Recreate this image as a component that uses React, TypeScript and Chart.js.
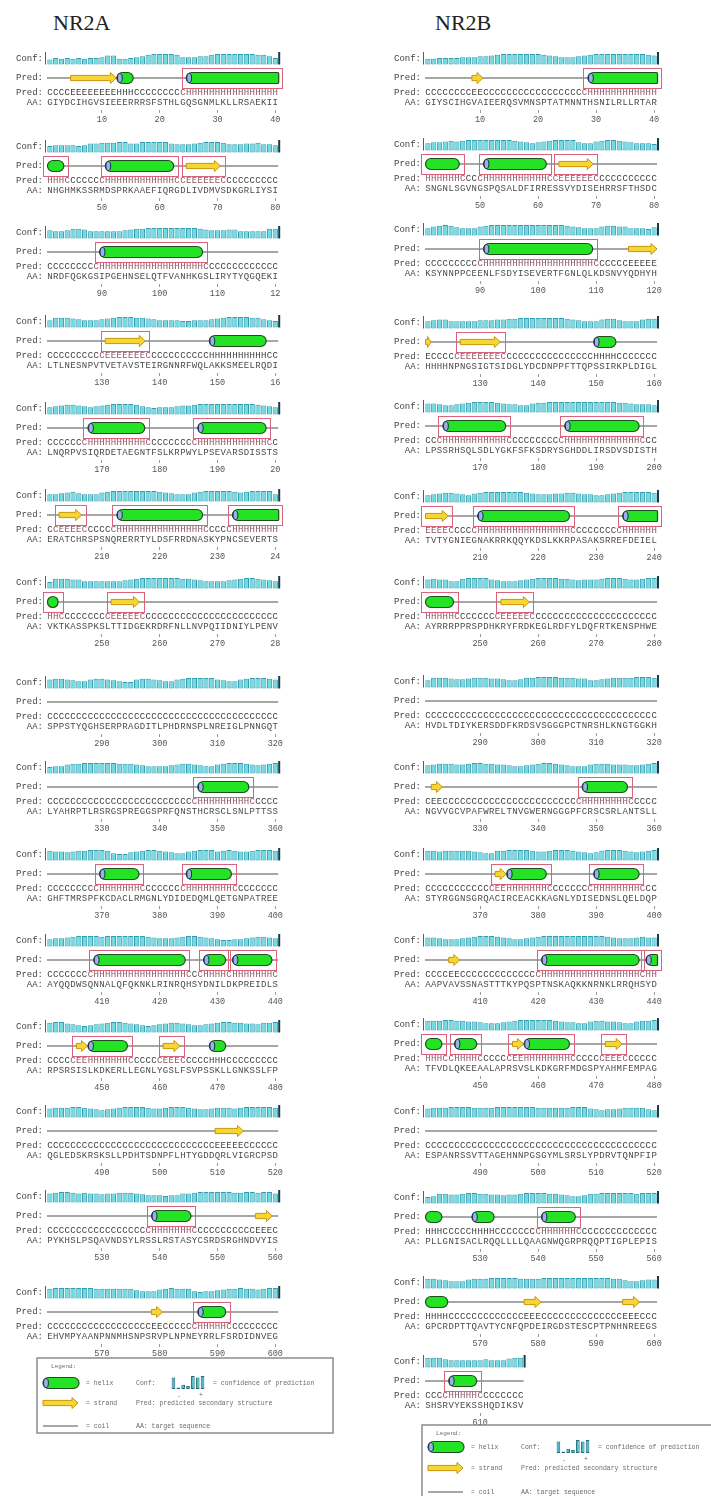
import React, { useEffect, useRef } from "react";
import { Chart, registerables } from "chart.js";

Chart.register(...registerables);

// ---------------- DATA ----------------
const NR2A_STARTS = [1, 41, 81, 121, 161, 201, 241, 281, 321, 361, 401, 441, 481, 521, 561];
const NR2B_STARTS = [1, 41, 81, 121, 161, 201, 241, 281, 321, 361, 401, 441, 481, 521, 561, 601];

// confidence (0-9) per residue
const NR2A_CONF = [
  "2434343445 7733456899 9985556689 9999998864",
  "4555545778 8899779999 9766678999 8666778665",
  "6556887555 5556788999 9999998766 6775555588",
  "5888765556 7899988765 5554455567 8999988654",
  "5678876567 8999986545 5567789999 9999998765",
  "5567865557 8999999998 7655578999 9987899995",
  "4888775555 5556789999 9998876555 5678998765",
  "7887655788 7654478876 5578999997 6557899987",
  "4557889999 9988876555 5678876557 8999876789",
  "8776788999 8544678998 7655789997 8987789998",
  "5667899998 9999999876 6678998765 4455678876",
  "8997654567 8998765456 7887655678 9988776889",
  "7888998765 6789999877 8999876678 8878999998",
  "7899878776 7788876555 4557789999 9988998997",
  "8999999988 8888865557 8988854556 7889887899",
];
const NR2B_CONF = [
  "3344445556 6789999999 8765556789 9999999987",
  "5667878999 9999987656 7899996557 8998765554",
  "5789865557 8999999999 9999876555 7887755546",
  "5677555556 6677889999 9999876555 7886555788",
  "7765567899 9987665578 8999999999 9998876665",
  "5678876578 9999999876 6677887665 5678999998",
  "7877558999 9765556789 9998876777 8999877899",
  "5888766788 8776556889 9998887755 6788889998",
  "6788877899 8877655678 9987655578 8877766789",
  "8878888876 5588999987 7899987656 8999876789",
  "7765556789 9987655678 9999999999 9876667877",
  "8889988776 5556789999 9987665578 8776557889",
  "7888999988 8899999998 8888899976 5667888865",
  "4588778998 8776778999 9887655688 9999998999",
  "8876555788 8999998888 9999999999 9988655677",
  "8886555555 6555788",
];

// predicted secondary structure
const NR2A_PRED = [
  "CCCCEEEEEE EEHHHCCCCC CCCCHHHHHH HHHHHHHHHH",
  "HHHCCCCCCC HHHHHHHHHH HHCCEEEEEE CCCCCCCCCC",
  "CCCCCCCCCH HHHHHHHHHH HHHHHHHCCC CCCCCCCCCC",
  "CCCCCCCCCC EEEEEEECCC CCCCCCCCHH HHHHHHHHCC",
  "CCCCCCCHHH HHHHHHHCCC CCCCCCHHHH HHHHHHHHCC",
  "CCEEEECCCC CCHHHHHHHH HHHHHHHCCC CCHHHHHHHH",
  "HHCCCCCCCC CEEEEECCCC CCCCCCCCCC CCCCCCCCCC",
  "CCCCCCCCCC CCCCCCCCCC CCCCCCCCCC CCCCCCCCCC",
  "CCCCCCCCCC CCCCCCCCCC CCCCCCHHHH HHHHHCCCCC",
  "CCCCCCCCCH HHHHHHCCCC CCCCHHHHHH HHCCCCCCCC",
  "CCCCCCCCHH HHHHHHHHHH HHHHCCCHHH HCHHHHHHHC",
  "CCCCCEEHHH HHHHCCCCCC EEECCCCCHH HCCCCCCCCC",
  "CCCCCCCCCC CCCCCCCCCC CCCCCCCCCE EEEECCCCCC",
  "CCCCCCCCCC CCCCCCCCHH HHHHHCCCCC CCCCCCEEEC",
  "CCCCCCCCCC CCCCCCCCEE CCCCCCHHHH HCCCCCCCCC",
];
const NR2B_PRED = [
  "CCCCCCCCEE CCCCCCCCCC CCCCCCCCHH HHHHHHHHHH",
  "HHHHHHCCCC HHHHHHHHHH HCCEEEEEEC CCCCCCCCCC",
  "CCCCCCCCCC HHHHHHHHHH HHHHHHHHHC CCCCCEEEEE",
  "ECCCCCEEEE EEECCCCCCC CCCCCCCCCH HHHCCCCCCC",
  "CCCHHHHHHH HHHHCCCCCC CCCCHHHHHH HHHHHHHCCC",
  "EEEECCCCCH HHHHHHHHHH HHHHHCCCCC CCCCHHHHHH",
  "HHHHHCCCCC CCCEEEEECC CCCCCCCCCC CCCCCCCCCC",
  "CCCCCCCCCC CCCCCCCCCC CCCCCCCCCC CCCCCCCCCC",
  "CEECCCCCCC CCCCCCCCCC CCCCCCCHHH HHHHHCCCCC",
  "CCCCCCCCCC CCEEHHHHHH HCCCCCCCCH HHHHHHHCCC",
  "CCCCEECCCC CCCCCCCCCC HHHHHHHHHH HHHHHHHCHH",
  "HHHCCHHHHC CCCCCEEHHH HHHHHCCCCC CEEECCCCCC",
  "CCCCCCCCCC CCCCCCCCCC CCCCCCCCCC CCCCCCCCCC",
  "HHHCCCCCHH HHCCCCCCCC HHHHHHCCCC CCCCCCCCCC",
  "HHHHCCCCCC CCCCCCCEEE CCCCCCCCCC CCCCEEECCC",
  "CCCCHHHHHC CCCCCCC",
];

// target sequence
const NR2A_AA = [
  "GIYDCIHGVS IEEERRRSFS THLGQSGNML KLLRSAEKII",
  "NHGHMKSSRM DSPRKAAEFI QRGDLIVDMV SDKGRLIYSI",
  "NRDFQGKGSI PGEHNSELQT FVANHKGSLI RYTYQGQEKI",
  "LTLNESNPVT VETAVSTEIR GNNRFWQLAK KSMEELRQDI",
  "LNQRPVSIQR DETAEGNTFS LKRPWYLPSE VARSDISSTS",
  "ERATCHRSPS NQRERRTYLD SFRRDNASKY PNCSEVERTS",
  "VKTKASSPKS LTTIDGEKRD RFNLLNVPQI IDNIYLPENV",
  "SPPSTYQGHS ERPRAGDITL PHDRNSPLNR EIGLPNNGQT",
  "LYAHRPTLRS RGSPREGGSP RFQNSTHCRS CLSNLPTTSS",
  "GHFTMRSPFK CDACLRMGNL YDIDEDQMLQ ETGNPATREE",
  "AYQQDWSQNN ALQFQKNKLR INRQHSYDNI LDKPREIDLS",
  "RPSRSISLKD KERLLEGNLY GSLFSVPSSK LLGNKSSLFP",
  "QGLEDSKRSK SLLPDHTSDN PFLHTYGDDQ RLVIGRCPSD",
  "PYKHSLPSQA VNDSYLRSSL RSTASYCSRD SRGHNDVYIS",
  "EHVMPYAANP NNMHSNPSRV PLNPNEYRRL FSRDIDNVEG",
];
const NR2B_AA = [
  "GIYSCIHGVA IEERQSVMNS PTATMNNTHS NILRLLRTAR",
  "SNGNLSGVNG SPQSALDFIR RESSVYDISE HRRSFTHSDC",
  "KSYNNPPCEE NLFSDYISEV ERTFGNLQLK DSNVYQDHYH",
  "HHHHNPNGSI GTSIDGLYDC DNPPFTTQPS SIRKPLDIGL",
  "LPSSRHSQLS DLYGKFSFKS DRYSGHDDLI RSDVSDISTH",
  "TVTYGNIEGN AKRRKQQYKD SLKKRPASAK SRREFDEIEL",
  "AYRRRPPRSP DHKRYFRDKE GLRDFYLDQF RTKENSPHWE",
  "HVDLTDIYKE RSDDFKRDSV SGGGPCTNRS HLKNGTGGKH",
  "NGVVGCVPAF WRELTNVGWE RNGGGPFCRS CSRLANTSLL",
  "STYRGGNSGR QACIRCEACK KAGNLYDISE DNSLQELDQP",
  "AAPVAVSSNA STTTKYPQSP TNSKAQKKNR NKLRRQHSYD",
  "TFVDLQKEEA ALAPRSVSLK DKGRFMDGSP YAHMFEMPAG",
  "ESPANRSSVT TAGEHNNPGS GYMLSRSLYP DRVTQNPFIP",
  "PLLGNISACL RQQLLLLQAA GNWQGRPRQQ PTIGPLEPIS",
  "GPCRDPTTQA VTYCNFQPDE IRGDSTESCP TPNHNREEGS",
  "SHSRVYEKSS HQDIKSV",
];

// highlighted (boxed) segments, residue index within block [from, to]
const NR2A_BOXES = [
  [[25, 40]],
  [[1, 3], [11, 22], [25, 30]],
  [[10, 27]],
  [[11, 17]],
  [[8, 17], [27, 38]],
  [[3, 6], [13, 27], [33, 40]],
  [[1, 2], [12, 16]],
  [],
  [[27, 35]],
  [[10, 16], [25, 32]],
  [[9, 24], [28, 31], [33, 39]],
  [[6, 14], [21, 23]],
  [],
  [[19, 25]],
  [[27, 31]],
];
const NR2B_BOXES = [
  [[29, 40]],
  [[1, 6], [11, 21], [24, 29]],
  [[11, 29]],
  [[7, 13]],
  [[4, 14], [25, 37]],
  [[1, 4], [10, 25], [35, 40]],
  [[1, 5], [14, 18]],
  [],
  [[28, 35]],
  [[13, 21], [30, 37]],
  [[21, 37], [39, 40]],
  [[1, 3], [6, 9], [16, 25], [32, 34]],
  [],
  [[21, 26]],
  [],
  [[5, 9]],
];

// position tick labels (as printed)
const NR2A_TICKS = [
  ["10", "20", "30", "40"], ["50", "60", "70", "80"], ["90", "100", "110", "12"],
  ["130", "140", "150", "16"], ["170", "180", "190", "20"], ["210", "220", "230", "24"],
  ["250", "260", "270", "28"], ["290", "300", "310", "320"], ["330", "340", "350", "360"],
  ["370", "380", "390", "400"], ["410", "420", "430", "440"], ["450", "460", "470", "480"],
  ["490", "500", "510", "520"], ["530", "540", "550", "560"], ["570", "580", "590", "600"],
];
const NR2B_TICKS = [
  ["10", "20", "30", "40"], ["50", "60", "70", "80"], ["90", "100", "110", "120"],
  ["130", "140", "150", "160"], ["170", "180", "190", "200"], ["210", "220", "230", "240"],
  ["250", "260", "270", "280"], ["290", "300", "310", "320"], ["330", "340", "350", "360"],
  ["370", "380", "390", "400"], ["410", "420", "430", "440"], ["450", "460", "470", "480"],
  ["490", "500", "510", "520"], ["530", "540", "550", "560"], ["570", "580", "590", "600"],
  ["610"],
];

const LEGEND_CONF = [8, 1, 3, 2, 9, 8, 9];
const TITLES = ["NR2A", "NR2B"];

// ---------------- LAYOUT / STYLE ----------------
const COLS = [
  { left: 0, width: 355, xStart: 47, resW: 5.78, titleX: 53,
    ys: [59, 147, 233, 322, 409, 496, 583, 683, 768, 855, 941, 1027, 1112, 1197, 1293] },
  { left: 355, width: 356, xStart: 425, resW: 5.8, titleX: 435,
    ys: [59, 145, 230, 323, 407, 497, 583, 682, 768, 855, 941, 1025, 1112, 1198, 1283, 1362] },
];
const CANVAS_TOP_OFF = 12;
const CANVAS_H = 84;
const AREA_BOTTOM_OFF = 51;
const AXIS_H = 14;
const BAND_HALF = 5.5;
const Y_MAX = 9.5;
const CONF_BASE = -4;
const PX_PER_UNIT = (2 * BAND_HALF) / (Y_MAX - CONF_BASE);
const Y_MIN = CONF_BASE - (AREA_BOTTOM_OFF - BAND_HALF) / PX_PER_UNIT;
// row offsets below the conf baseline (px)
const OFF_PRED = 13.5;
const OFF_PREDSTR = 28.5;
const OFF_AA = 38.5;

const MONO = '"Liberation Mono", "DejaVu Sans Mono", monospace';
const CONF_FILL = "#74d9e0";
const CONF_EDGE = "#2f9db0";
const COIL = "#8a8a8a";
const BOX_COLOR = "#d9627c";
const HELIX_FILL = "#24e324";
const HELIX_EDGE = "#1d4f1d";
const CAP_FILL = "#9db2e2";
const CAP_EDGE = "#1e2b5a";
const STRAND_FILL = "#f6d634";
const STRAND_EDGE = "#c8960b";

const LEGENDS = [
  { left: 30, top: 1350, width: 312, height: 90, box: [7, 8, 296, 75], rows: [25, 45, 68] },
  { left: 415, top: 1417, width: 296, height: 79, box: [7, 8, 310, 90], rows: [22, 43, 67] },
];

// ---------------- HELPERS ----------------
const clean = (s: string) => s.replace(/\s/g, "");

type Block = { start: number; conf: number[]; pred: string; aa: string; boxes: number[][]; ticks: string[] };

function buildBlocks(starts: number[], conf: string[], pred: string[], aa: string[], boxes: number[][][], ticks: string[][]): Block[] {
  return starts.map((start, i) => ({
    start,
    conf: clean(conf[i]).split("").map(Number),
    pred: clean(pred[i]),
    aa: clean(aa[i]),
    boxes: boxes[i],
    ticks: ticks[i],
  }));
}

function runs(pred: string) {
  const out: { t: string; s: number; e: number }[] = [];
  let i = 0;
  while (i < pred.length) {
    const t = pred[i];
    let j = i;
    while (j + 1 < pred.length && pred[j + 1] === t) j++;
    if (t === "H" || t === "E") out.push({ t, s: i, e: j });
    i = j + 1;
  }
  return out;
}

function drawHelix(ctx: CanvasRenderingContext2D, x0: number, x1: number, y: number, cap: boolean, flatRight: boolean) {
  const h = 11;
  const r = h / 2;
  const w = Math.max(x1 - x0, 2);
  const rr = Math.min(r, w / 2);
  ctx.beginPath();
  (ctx as any).roundRect(x0, y - r, w, h, flatRight ? [rr, 1, 1, rr] : rr);
  ctx.fillStyle = HELIX_FILL;
  ctx.fill();
  ctx.lineWidth = 1.2;
  ctx.strokeStyle = HELIX_EDGE;
  ctx.stroke();
  if (cap && w > 6) {
    ctx.beginPath();
    ctx.ellipse(x0 + 3, y, 2.4, r - 1, 0, 0, Math.PI * 2);
    ctx.fillStyle = CAP_FILL;
    ctx.fill();
    ctx.lineWidth = 1;
    ctx.strokeStyle = CAP_EDGE;
    ctx.stroke();
  }
}

function drawStrand(ctx: CanvasRenderingContext2D, x0: number, x1: number, y: number) {
  const bh = 2.6;
  const hh = 5.5;
  const hl = Math.min(6, (x1 - x0) * 0.6);
  ctx.beginPath();
  ctx.moveTo(x0, y - bh);
  ctx.lineTo(x1 - hl, y - bh);
  ctx.lineTo(x1 - hl, y - hh);
  ctx.lineTo(x1, y);
  ctx.lineTo(x1 - hl, y + hh);
  ctx.lineTo(x1 - hl, y + bh);
  ctx.lineTo(x0, y + bh);
  ctx.closePath();
  ctx.fillStyle = STRAND_FILL;
  ctx.fill();
  ctx.lineWidth = 1;
  ctx.strokeStyle = STRAND_EDGE;
  ctx.stroke();
}

function drawBlock(chart: any, b: Block) {
  const { ctx, chartArea: a } = chart;
  const xs = chart.scales.x;
  const ys = chart.scales.y;
  const n = b.pred.length;
  const w = (a.right - a.left) / n;
  const cx = (i: number) => xs.getPixelForValue(i);
  const le = (i: number) => cx(i) - w / 2;
  const re = (i: number) => cx(i) + w / 2;
  const yB = ys.getPixelForValue(CONF_BASE);
  const yT = ys.getPixelForValue(Y_MAX);
  const yC = ys.getPixelForValue((CONF_BASE + Y_MAX) / 2);
  const yP = yB + OFF_PRED;
  const yS = yB + OFF_PREDSTR;
  const yA = yB + OFF_AA;
  ctx.save();
  // conf frame ends
  ctx.fillStyle = "#2b6f7d";
  ctx.fillRect(a.left - 2, yT - 1.5, 1, yB - yT + 1.5);
  ctx.fillStyle = "#173c48";
  ctx.fillRect(a.right, yT - 1.5, 2, yB - yT + 1.5);
  // row labels
  ctx.font = `9px ${MONO}`;
  ctx.fillStyle = "#454545";
  ctx.textAlign = "right";
  ctx.textBaseline = "middle";
  ctx.fillText("Conf:", a.left - 4, yC);
  ctx.fillText("Pred:", a.left - 4, yP);
  ctx.fillText("Pred:", a.left - 4, yS);
  ctx.fillText("AA:", a.left - 4, yA);
  // coil line
  ctx.strokeStyle = COIL;
  ctx.lineWidth = 1.4;
  ctx.beginPath();
  ctx.moveTo(a.left, yP);
  ctx.lineTo(a.right, yP);
  ctx.stroke();
  // secondary structure elements
  for (const r of runs(b.pred)) {
    if (r.t === "H") {
      const last = r.e === n - 1;
      drawHelix(ctx, le(r.s) + 0.5, re(r.e) + (last ? 0.5 : -0.5), yP, r.s > 0, last);
    } else {
      drawStrand(ctx, le(r.s) + 0.5, re(r.e), yP);
    }
  }
  // boxes
  ctx.strokeStyle = BOX_COLOR;
  ctx.lineWidth = 1;
  const boxX: number[][] = [];
  for (const [s, e] of b.boxes) {
    const x0 = le(s - 1) - 4;
    const x1 = re(e - 1) + 4;
    boxX.push([x0, x1]);
    ctx.strokeRect(Math.round(x0) + 0.5, Math.round(yP - 10) + 0.5, Math.round(x1 - x0), 20);
  }
  // sequences
  ctx.font = `9px ${MONO}`;
  ctx.textAlign = "center";
  ctx.textBaseline = "middle";
  for (let i = 0; i < n; i++) {
    const x = cx(i);
    const inBox = boxX.some(([x0, x1]) => x > x0 && x < x1);
    ctx.fillStyle = inBox ? "#8c5562" : "#3c3c3c";
    ctx.fillText(b.pred[i], x, yS);
    if (b.aa[i]) {
      ctx.fillStyle = "#4a4a4a";
      ctx.fillText(b.aa[i], x, yA);
    }
  }
  ctx.restore();
}

function BlockChart({ block, col, y }: { block: Block; col: any; y: number }) {
  const ref = useRef<HTMLCanvasElement>(null);
  useEffect(() => {
    const canvas = ref.current;
    if (!canvas) return;
    const n = block.conf.length;
    const xEnd = col.xStart + n * col.resW;
    const labelFor = (idx: number) => {
      const res = block.start + idx;
      if (res % 10 !== 0) return "";
      const k = Math.floor((res - block.start) / 10);
      return block.ticks[k] ?? "";
    };
    const chart = new Chart(canvas, {
      type: "bar",
      data: {
        labels: block.conf.map((_, i) => String(block.start + i)),
        datasets: [
          {
            data: block.conf,
            base: CONF_BASE,
            backgroundColor: CONF_FILL,
            borderColor: CONF_EDGE,
            borderWidth: 1,
            borderSkipped: false,
            barPercentage: 0.9,
            categoryPercentage: 1,
          },
        ],
      },
      options: {
        responsive: false,
        maintainAspectRatio: false,
        animation: false,
        devicePixelRatio: 1,
        events: [],
        layout: {
          padding: {
            left: col.xStart - col.left,
            right: col.left + col.width - xEnd,
            top: CANVAS_TOP_OFF - BAND_HALF,
            bottom: CANVAS_H - (CANVAS_TOP_OFF + AREA_BOTTOM_OFF) - AXIS_H,
          },
        },
        plugins: { legend: { display: false }, tooltip: { enabled: false }, title: { display: false } },
        scales: {
          x: {
            type: "category",
            offset: true,
            border: { display: false },
            grid: {
              offset: false,
              drawOnChartArea: false,
              drawTicks: true,
              tickLength: 3,
              lineWidth: 1,
              color: (c: any) => (labelFor(c.index) ? "#9a9a9a" : "rgba(0,0,0,0)"),
            },
            ticks: {
              autoSkip: false,
              maxRotation: 0,
              minRotation: 0,
              padding: 2,
              color: "#555",
              font: { family: "Liberation Mono", size: 8.5 },
              callback: (_v: any, idx: number) => labelFor(idx),
            },
            afterFit: (s: any) => {
              s.height = AXIS_H;
            },
          },
          y: { display: false, min: Y_MIN, max: Y_MAX },
        },
      } as any,
      plugins: [{ id: "psipredBlock", afterDatasetsDraw: (c: any) => drawBlock(c, block) }],
    });
    return () => chart.destroy();
  }, [block, col, y]);
  return (
    <canvas
      ref={ref}
      width={col.width}
      height={CANVAS_H}
      style={{ position: "absolute", left: col.left, top: y - CANVAS_TOP_OFF, width: col.width, height: CANVAS_H }}
    />
  );
}

function drawLegend(chart: any, spec: any) {
  const { ctx } = chart;
  const [bx, by, bw, bh] = spec.box;
  const [r1o, r2o, r3o] = spec.rows;
  const r1 = by + r1o, r2 = by + r2o, r3 = by + r3o;
  ctx.save();
  ctx.strokeStyle = "#8c8c8c";
  ctx.lineWidth = 1.5;
  ctx.strokeRect(bx, by, bw, bh);
  ctx.fillStyle = "#6a6a6a";
  ctx.textAlign = "left";
  ctx.textBaseline = "middle";
  ctx.font = `6px ${MONO}`;
  ctx.fillText("Legend:", bx + 14, by + 8);
  drawHelix(ctx, bx + 6, bx + 42, r1, true, false);
  drawStrand(ctx, bx + 6, bx + 41, r2);
  ctx.strokeStyle = COIL;
  ctx.lineWidth = 1.4;
  ctx.beginPath();
  ctx.moveTo(bx + 6, r3);
  ctx.lineTo(bx + 41, r3);
  ctx.stroke();
  ctx.font = `6.5px ${MONO}`;
  ctx.fillStyle = "#6a6a6a";
  ctx.fillText("= helix", bx + 49, r1);
  ctx.fillText("= strand", bx + 49, r2);
  ctx.fillText("= coil", bx + 49, r3);
  ctx.fillText("Conf:", bx + 99, r1);
  ctx.fillText("= confidence of prediction", bx + 176, r1);
  ctx.fillText("Pred: predicted secondary structure", bx + 99, r2);
  ctx.fillText("AA: target sequence", bx + 99, r3);
  ctx.fillText("-", bx + 140, r1 + 13);
  ctx.fillText("+", bx + 162, r1 + 12);
  ctx.restore();
}

function LegendChart({ spec }: { spec: any }) {
  const ref = useRef<HTMLCanvasElement>(null);
  useEffect(() => {
    const canvas = ref.current;
    if (!canvas) return;
    const [bx, by] = spec.box;
    const r1 = by + spec.rows[0];
    const chart = new Chart(canvas, {
      type: "bar",
      data: {
        labels: LEGEND_CONF.map((_, i) => String(i)),
        datasets: [
          {
            data: LEGEND_CONF,
            backgroundColor: "#4fb7c5",
            borderColor: "#1d6b7a",
            borderWidth: 1,
            borderSkipped: false,
            barPercentage: 0.75,
            categoryPercentage: 1,
          },
        ],
      },
      options: {
        responsive: false,
        maintainAspectRatio: false,
        animation: false,
        devicePixelRatio: 1,
        events: [],
        layout: {
          padding: {
            left: bx + 134,
            right: spec.width - (bx + 168),
            top: r1 - 7,
            bottom: spec.height - (r1 + 6),
          },
        },
        plugins: { legend: { display: false }, tooltip: { enabled: false } },
        scales: { x: { display: false }, y: { display: false, min: 0, max: 9 } },
      } as any,
      plugins: [{ id: "psipredLegend", afterDatasetsDraw: (c: any) => drawLegend(c, spec) }],
    });
    return () => chart.destroy();
  }, [spec]);
  return (
    <canvas
      ref={ref}
      width={spec.width}
      height={spec.height}
      style={{ position: "absolute", left: spec.left, top: spec.top, width: spec.width, height: spec.height }}
    />
  );
}

const BLOCKS_A = buildBlocks(NR2A_STARTS, NR2A_CONF, NR2A_PRED, NR2A_AA, NR2A_BOXES, NR2A_TICKS);
const BLOCKS_B = buildBlocks(NR2B_STARTS, NR2B_CONF, NR2B_PRED, NR2B_AA, NR2B_BOXES, NR2B_TICKS);

export default function App() {
  useEffect(() => {
    document.body.style.margin = "0";
    document.body.style.background = "#ffffff";
  }, []);
  const cols = [BLOCKS_A, BLOCKS_B];
  return (
    <div style={{ position: "absolute", left: 0, top: 0, width: 711, height: 1496, background: "#fff", overflow: "hidden" }}>
      {TITLES.map((t, i) => (
        <div
          key={t}
          style={{
            position: "absolute",
            left: COLS[i].titleX,
            top: 12,
            fontFamily: '"Liberation Serif", "DejaVu Serif", serif',
            fontSize: 22,
            lineHeight: "22px",
            color: "#222",
          }}
        >
          {t}
        </div>
      ))}
      {cols.map((blocks, ci) =>
        blocks.map((b, bi) => <BlockChart key={`${ci}-${bi}`} block={b} col={COLS[ci]} y={COLS[ci].ys[bi]} />)
      )}
      {LEGENDS.map((s, i) => (
        <LegendChart key={i} spec={s} />
      ))}
    </div>
  );
}
